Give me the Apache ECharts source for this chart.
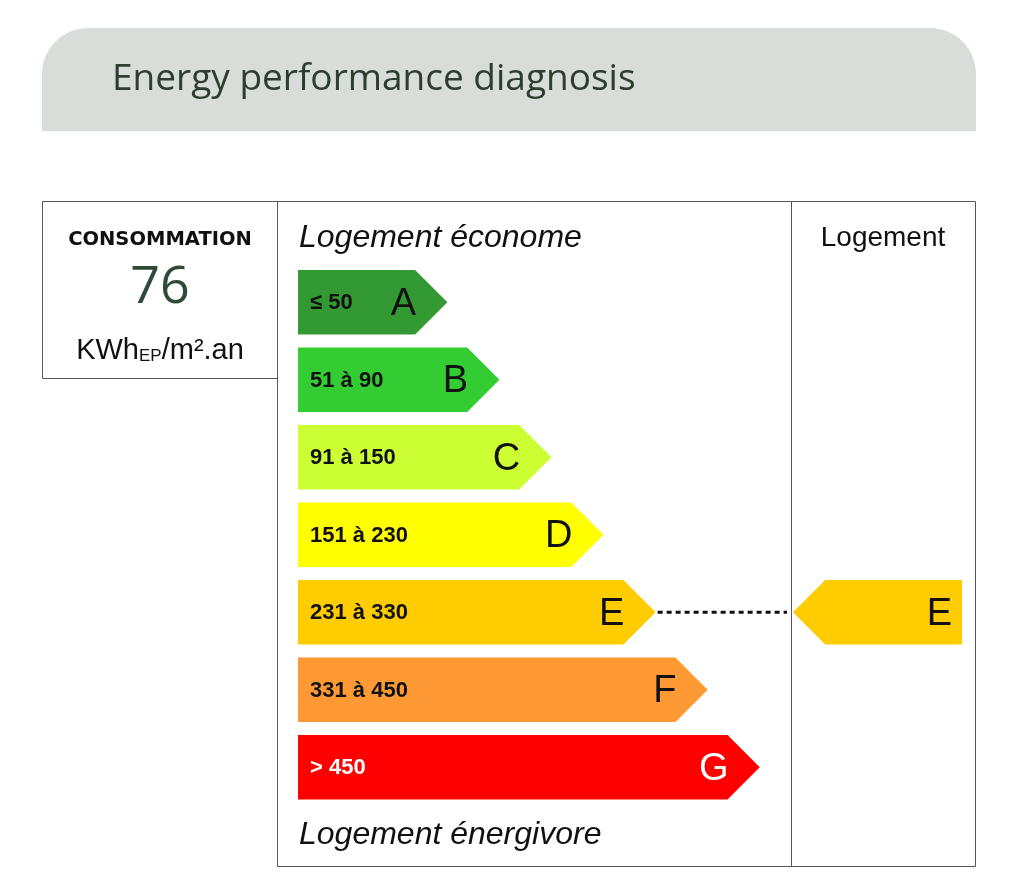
<!DOCTYPE html>
<html>
<head>
<meta charset="utf-8">
<script src="https://cdn.jsdelivr.net/npm/echarts@6/dist/echarts.min.js"></script>
<style>
html,body{margin:0;padding:0;background:#ffffff;}
#chart{width:1024px;height:892px;}
</style>
</head>
<body>
<div id="chart"></div>
<script>
// ---- data ----
const classes = ['A', 'B', 'C', 'D', 'E', 'F', 'G'];
const ranges = ['≤ 50', '51 à 90', '91 à 150', '151 à 230', '231 à 330', '331 à 450', '> 450'];
const classRank = [1, 2, 3, 4, 5, 6, 7];
const currentClass = 'E';
const consumption = 76;
const unitMain = 'KWh';
const unitSub = 'EP';
const unitTail = '/m².an';
const titleText = 'Energy performance diagnosis';
const topLabel = 'Logement économe';
const bottomLabel = 'Logement énergivore';
const columnLabel = 'Logement';
const consumptionLabel = 'CONSOMMATION';

// ---- styles ----
const classColors = ['#339933', '#33cc33', '#ccff33', '#ffff00', '#ffcc00', '#ff9933', '#ff0000'];
const classTextColors = ['#111', '#111', '#111', '#111', '#111', '#111', '#ffffff'];
const X_MIN = -1.25, X_MAX = 8.2;
const BAR_RATIO = 0.832;
const SANS = '"Liberation Sans", Arial, sans-serif';
const TITLE_FONT = '"Open Sans", sans-serif';

const chart = echarts.init(document.getElementById('chart'), null, {renderer: 'canvas'});

function arrowBar(params, api) {
  const val = api.value(0);
  const cat = api.value(1);
  const end = api.coord([val, cat]);
  const start = api.coord([X_MIN, cat]);
  const h = api.size([0, 1])[1] * BAR_RATIO;
  const half = h / 2;
  const y = end[1];
  const i = params.dataIndex;
  const children = [
    {
      type: 'polygon',
      shape: {points: [[start[0], y - half], [end[0], y - half], [end[0] + half, y], [end[0], y + half], [start[0], y + half]]},
      style: {fill: classColors[i]}
    },
    {
      type: 'text',
      style: {x: start[0] + 12, y: y + 1, text: ranges[i], fill: classTextColors[i],
        font: 'bold 22px ' + SANS, verticalAlign: 'middle', align: 'left'}
    },
    {
      type: 'text',
      style: {x: end[0] + 1, y: y + 2, text: classes[i], fill: classTextColors[i],
        font: '38px ' + SANS, verticalAlign: 'middle', align: 'right'}
    }
  ];
  if (classes[i] === currentClass) {
    const cs = params.coordSys;
    children.push({
      type: 'line',
      shape: {x1: end[0] + half + 2, y1: y, x2: cs.x + cs.width - 3, y2: y},
      style: {stroke: '#111', lineWidth: 3, lineDash: [5, 4]}
    });
  }
  return {type: 'group', children: children};
}

function indicator(params, api) {
  const cat = api.value(1);
  const tip = api.coord([0, cat]);
  const right = api.coord([api.value(0), cat]);
  const h = api.size([0, 1])[1] * BAR_RATIO;
  const half = h / 2;
  const y = tip[1];
  const idx = classes.indexOf(currentClass);
  return {
    type: 'group',
    children: [
      {
        type: 'polygon',
        shape: {points: [[tip[0], y], [tip[0] + half, y - half], [right[0], y - half], [right[0], y + half], [tip[0] + half, y + half]]},
        style: {fill: classColors[idx]}
      },
      {
        type: 'text',
        style: {x: right[0] - 10, y: y + 2, text: currentClass, fill: classTextColors[idx],
          font: '38px ' + SANS, verticalAlign: 'middle', align: 'right'}
      }
    ]
  };
}

const option = {
  backgroundColor: '#ffffff',
  animation: false,
  grid: [
    {left: 298, top: 263.5, width: 492, height: 542.5},
    {left: 793, top: 263.5, width: 169, height: 542.5}
  ],
  xAxis: [
    {type: 'value', gridIndex: 0, min: X_MIN, max: X_MAX, show: false},
    {type: 'value', gridIndex: 1, min: 0, max: 1, show: false}
  ],
  yAxis: [
    {type: 'category', gridIndex: 0, data: classes, inverse: true, show: false},
    {type: 'category', gridIndex: 1, data: classes, inverse: true, show: false}
  ],
  series: [
    {
      type: 'custom', xAxisIndex: 0, yAxisIndex: 0,
      renderItem: arrowBar,
      encode: {x: 0, y: 1},
      data: classes.map((c, i) => [classRank[i], c])
    },
    {
      type: 'custom', xAxisIndex: 1, yAxisIndex: 1,
      renderItem: indicator,
      encode: {x: 0, y: 1},
      data: [[1, currentClass]]
    }
  ],
  graphic: [
    {type: 'rect', shape: {x: 42, y: 28, width: 934, height: 103, r: [46, 46, 0, 0]}, style: {fill: '#d9ddd9'}, z: 0},
    {type: 'text', style: {x: 112, y: 79, text: titleText, fill: '#2f3d31', font: '37px ' + TITLE_FONT, verticalAlign: 'middle'}},
    {type: 'rect', shape: {x: 42.5, y: 201.5, width: 235, height: 177}, style: {fill: 'none', stroke: '#555', lineWidth: 1}},
    {type: 'rect', shape: {x: 277.5, y: 201.5, width: 514, height: 665}, style: {fill: 'none', stroke: '#555', lineWidth: 1}},
    {type: 'rect', shape: {x: 791.5, y: 201.5, width: 184, height: 665}, style: {fill: 'none', stroke: '#555', lineWidth: 1}},
    {type: 'text', style: {x: 160, y: 240, text: consumptionLabel, fill: '#111', font: 'bold 19.5px "DejaVu Sans", sans-serif', align: 'center', verticalAlign: 'middle'}},
    {type: 'text', style: {x: 160, y: 288, text: String(consumption), fill: '#2f4a36', font: '52px ' + TITLE_FONT, align: 'center', verticalAlign: 'middle'}},
    {type: 'text', style: {x: 160, y: 349, text: '{a|' + unitMain + '}{s|' + unitSub + '}{a|' + unitTail + '}',
      align: 'center', verticalAlign: 'middle',
      rich: {
        a: {font: '29px ' + SANS, fill: '#111', lineHeight: 32, verticalAlign: 'bottom'},
        s: {font: '17px ' + SANS, fill: '#111', lineHeight: 17, verticalAlign: 'bottom'}
      }}},
    {type: 'text', style: {x: 299, y: 238, text: topLabel, fill: '#111', font: 'italic 32px ' + SANS, verticalAlign: 'middle'}},
    {type: 'text', style: {x: 299, y: 835, text: bottomLabel, fill: '#111', font: 'italic 32px ' + SANS, verticalAlign: 'middle'}},
    {type: 'text', style: {x: 883, y: 238, text: columnLabel, fill: '#111', font: '28px ' + SANS, align: 'center', verticalAlign: 'middle'}}
  ]
};
chart.setOption(option);
</script>
</body>
</html>
